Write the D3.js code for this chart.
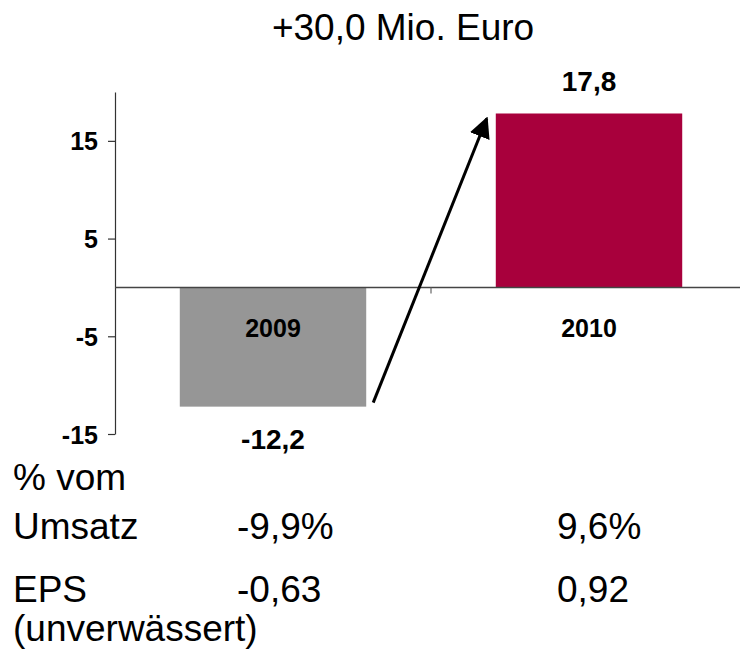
<!DOCTYPE html>
<html>
<head>
<meta charset="utf-8">
<script src="https://cdn.jsdelivr.net/npm/d3@7"></script>
<style>
  body { margin: 0; background: #fff; }
  text { font-family: Arial, "Liberation Sans", sans-serif; }
</style>
</head>
<body>
<script>
// data
var years = ['2009', '2010']
var ebit = [-12.2, 17.8]
var value_labels = ['-12,2', '17,8']
var bar_colors = ['#969696', '#a8003c']
var y_ticks = [-15, -5, 5, 15]
var title = '+30,0 Mio. Euro'
var row_labels = [['% vom', 'Umsatz'], ['EPS', '(unverwässert)']]
var umsatz_pct = ['-9,9%', '9,6%']
var eps = ['-0,63', '0,92']

var W = 740
var H = 655

var svg = d3.select('body').append('svg').attr('width', W).attr('height', H)

var y = d3.scaleLinear().domain([-15, 20]).range([434, 92])
var x = d3.scaleBand().domain(years).range([115, 747]).paddingInner(0.41).paddingOuter(0.205)

// bars
svg.selectAll('rect.bar').data(years).enter().append('rect')
  .attr('class', 'bar')
  .attr('x', function (d) { return x(d) })
  .attr('width', x.bandwidth())
  .attr('y', function (d, i) { return y(Math.max(0, ebit[i])) })
  .attr('height', function (d, i) { return Math.abs(y(ebit[i]) - y(0)) })
  .attr('fill', function (d, i) { return bar_colors[i] })

// y axis
var yaxis = svg.append('g').attr('transform', 'translate(115,0)')
  .call(d3.axisLeft(y).tickValues(y_ticks).tickSize(7).tickSizeOuter(0).tickPadding(10)
    .tickFormat(function (d) { return String(d) }))
yaxis.select('.domain').attr('stroke', '#333').attr('stroke-width', 1.2)
yaxis.selectAll('.tick line').attr('stroke', '#333').attr('stroke-width', 1.2)
yaxis.selectAll('.tick text')
  .style('font-family', 'Arial, "Liberation Sans", sans-serif')
  .style('font-size', '25px').style('font-weight', 'bold').attr('fill', '#000')
  .attr('dy', '0.36em')

// zero line
svg.append('line')
  .attr('x1', 115).attr('x2', W)
  .attr('y1', y(0)).attr('y2', y(0))
  .attr('stroke', '#444').attr('stroke-width', 1.5)

// category separator tick
var sep_x = x('2010') - x.step() * x.paddingInner() / 2
svg.append('line')
  .attr('x1', sep_x).attr('x2', sep_x)
  .attr('y1', y(0)).attr('y2', y(0) + 6)
  .attr('stroke', '#666').attr('stroke-width', 1.2)

// category labels
svg.selectAll('text.cat').data(years).enter().append('text')
  .attr('class', 'cat')
  .attr('x', function (d) { return x(d) + x.bandwidth() / 2 })
  .attr('y', 337)
  .attr('text-anchor', 'middle')
  .attr('font-size', 25).attr('font-weight', 'bold')
  .text(function (d) { return d })

// value labels
svg.selectAll('text.val').data(years).enter().append('text')
  .attr('class', 'val')
  .attr('x', function (d) { return x(d) + x.bandwidth() / 2 })
  .attr('y', function (d, i) { return ebit[i] < 0 ? y(ebit[i]) + 42 : y(ebit[i]) - 22 })
  .attr('text-anchor', 'middle')
  .attr('font-size', 28).attr('font-weight', 'bold')
  .text(function (d, i) { return value_labels[i] })

// arrow
svg.append('defs').append('marker')
  .attr('id', 'head')
  .attr('viewBox', '0 0 10 10')
  .attr('refX', 9).attr('refY', 5)
  .attr('markerWidth', 7).attr('markerHeight', 7)
  .attr('markerUnits', 'strokeWidth')
  .attr('orient', 'auto')
  .append('path').attr('d', 'M0,0 L10,5 L0,10 z').attr('fill', '#000')

svg.append('line')
  .attr('x1', x('2009') + x.bandwidth() + 7).attr('y1', y(ebit[0]) - 4)
  .attr('x2', x('2010') - 9).attr('y2', y(ebit[1]) + 5)
  .attr('stroke', '#000').attr('stroke-width', 3)
  .attr('marker-end', 'url(#head)')

// title
svg.append('text')
  .attr('x', 403).attr('y', 40)
  .attr('text-anchor', 'middle')
  .attr('font-size', 37)
  .text(title)

// table below
var row_y = [[490, 539], [602, 641]]
row_labels.forEach(function (lines, r) {
  lines.forEach(function (t, k) {
    svg.append('text').attr('x', 13).attr('y', row_y[r][k]).attr('font-size', 37).text(t)
  })
})
var col_x = [237, 557]
umsatz_pct.forEach(function (t, i) {
  svg.append('text').attr('x', col_x[i]).attr('y', row_y[0][1]).attr('font-size', 37).text(t)
})
eps.forEach(function (t, i) {
  svg.append('text').attr('x', col_x[i]).attr('y', row_y[1][0]).attr('font-size', 37).text(t)
})
</script>
</body>
</html>
